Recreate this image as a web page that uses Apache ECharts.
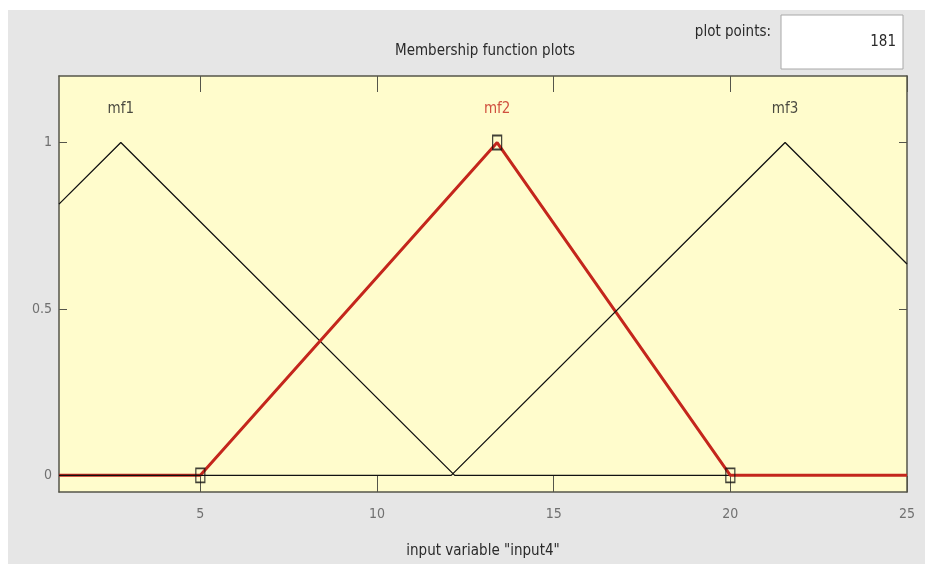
<!DOCTYPE html>
<html>
<head>
<meta charset="utf-8">
<title>Membership function plots</title>
<script src="https://cdn.jsdelivr.net/npm/echarts@6/dist/echarts.min.js"></script>
<style>
  html, body { margin: 0; padding: 0; background: #ffffff; }
  #chart { position: absolute; left: 8px; top: 10px; width: 917px; height: 554px; }
</style>
</head>
<body>
<div id="chart"></div>
<script>
// membership functions (vertices)
const mf1X = [1, 2.75, 12.2, 25]
const mf1Y = [0.815, 1, 0, 0]
const mf2X = [1, 5, 13.4, 20, 25]
const mf2Y = [0, 0, 1, 0, 0]
const mf3X = [1, 12.1, 21.55, 25]
const mf3Y = [0, 0, 1, 0.635]
// selected mf handles
const handleX = [5, 13.4, 20]
const handleY = [0, 1, 0]
// mf names and where they sit
const mfNames = ['mf1', 'mf2', 'mf3']
const mfPeaks = [2.75, 13.4, 21.55]
// axes
const xTicks = [5, 10, 15, 20, 25]
const yTicks = [0, 0.5, 1]
const plotPoints = 181

const FONT = "'Liberation Sans Narrow', 'DejaVu Sans Condensed', 'Liberation Sans', sans-serif"
const RED = '#c4261c'
const AXIS = '#55554a'

function pairs(xs, ys) {
  return xs.map((x, i) => [x, ys[i]])
}

const chart = echarts.init(document.getElementById('chart'))

const xBase = {
  type: 'value',
  min: 1,
  max: 25,
  splitLine: { show: false },
  axisLine: { show: true, onZero: false, lineStyle: { color: AXIS, width: 1.5 } },
  axisTick: { show: true, inside: true, length: 16, customValues: xTicks, lineStyle: { color: AXIS } }
}
const yBase = {
  type: 'value',
  min: -0.05,
  max: 1.2,
  splitLine: { show: false },
  axisLine: { show: true, onZero: false, lineStyle: { color: AXIS, width: 1.5 } },
  axisTick: { show: true, inside: true, length: 8, customValues: yTicks, lineStyle: { color: AXIS } }
}

chart.setOption({
  backgroundColor: '#e6e6e6',
  animation: false,
  textStyle: { fontFamily: FONT },
  title: {
    text: 'Membership function plots',
    left: 472,
    top: 29,
    textAlign: 'center',
    textStyle: { fontFamily: FONT, fontSize: 15, fontWeight: 'normal', color: '#2a2a2a' }
  },
  grid: {
    left: 51,
    right: 18,
    top: 66,
    bottom: 71,
    show: true,
    backgroundColor: '#fffccc',
    borderWidth: 0
  },
  xAxis: [
    Object.assign({}, xBase, {
      position: 'bottom',
      name: 'input variable "input4"',
      nameLocation: 'middle',
      nameGap: 52,
      nameTextStyle: { fontFamily: FONT, fontSize: 15, color: '#2a2a2a' },
      axisLabel: {
        customValues: xTicks,
        margin: 15,
        fontFamily: FONT,
        fontSize: 14,
        color: '#707070'
      }
    }),
    Object.assign({}, xBase, { position: 'top', axisLabel: { show: false } })
  ],
  yAxis: [
    Object.assign({}, yBase, {
      position: 'left',
      axisLabel: {
        customValues: yTicks,
        margin: 7,
        fontFamily: FONT,
        fontSize: 14,
        color: '#707070'
      }
    }),
    Object.assign({}, yBase, { position: 'right', axisLabel: { show: false } })
  ],
  graphic: [
    {
      type: 'text',
      x: 763,
      y: 22,
      style: {
        text: 'plot points:',
        align: 'right',
        verticalAlign: 'middle',
        font: '15px ' + FONT,
        fill: '#2a2a2a'
      }
    },
    {
      type: 'rect',
      shape: { x: 773, y: 5, width: 122, height: 54 },
      style: { fill: '#ffffff', stroke: '#a8a8a8', lineWidth: 1 }
    },
    {
      type: 'text',
      x: 888,
      y: 32,
      style: {
        text: String(plotPoints),
        align: 'right',
        verticalAlign: 'middle',
        font: '15px ' + FONT,
        fill: '#2a2a2a'
      }
    }
  ],
  series: [
    {
      name: 'mf1',
      type: 'line',
      data: pairs(mf1X, mf1Y),
      symbol: 'none',
      lineStyle: { color: '#111111', width: 1.3 },
      z: 2
    },
    {
      name: 'mf2',
      type: 'line',
      data: pairs(mf2X, mf2Y),
      symbol: 'none',
      lineStyle: { color: RED, width: 3 },
      z: 3
    },
    {
      name: 'mf3',
      type: 'line',
      data: pairs(mf3X, mf3Y),
      symbol: 'none',
      lineStyle: { color: '#111111', width: 1.3 },
      z: 4
    },
    {
      name: 'handles',
      type: 'scatter',
      data: pairs(handleX, handleY),
      symbol: 'rect',
      symbolSize: [9, 14],
      itemStyle: { color: 'rgba(0,0,0,0)', borderColor: '#111111', borderWidth: 1.5 },
      z: 5
    },
    {
      name: 'labels',
      type: 'scatter',
      data: mfPeaks.map((x, i) => ({
        value: [x, 1.1],
        name: mfNames[i],
        label: { color: mfNames[i] === 'mf2' ? RED : '#1a1a1a' }
      })),
      symbolSize: 0,
      label: {
        show: true,
        position: 'inside',
        formatter: '{b}',
        fontFamily: FONT,
        fontSize: 15
      },
      z: 6
    }
  ]
})
</script>
</body>
</html>
